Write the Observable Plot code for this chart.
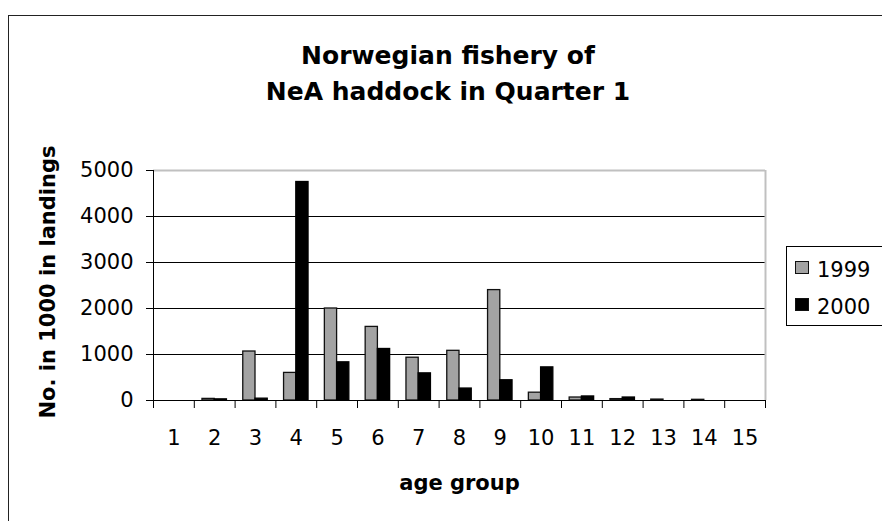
<!DOCTYPE html>
<html>
<head>
<meta charset="utf-8">
<script src="https://cdn.jsdelivr.net/npm/d3@7"></script>
<script src="https://cdn.jsdelivr.net/npm/@observablehq/plot@0.6"></script>
<style>
  html, body { margin: 0; padding: 0; background: #fff; width: 882px; height: 521px; overflow: hidden; }
  #wrap { position: relative; width: 882px; height: 521px; font-family: "DejaVu Sans", sans-serif; color: #000; }
  #frame { position: absolute; left: 8px; top: 15px; width: 900px; height: 600px; border-left: 1.5px solid #222; border-top: 1.5px solid #222; }
  .lbl { position: absolute; white-space: nowrap; line-height: 1; transform: translate(-50%, -50%); font-weight: bold; }
  #chart { position: absolute; left: 0; top: 0; }
  #legend { position: absolute; left: 786px; top: 246px; width: 110px; height: 78px; border: 1px solid #000; background: #fff; }
  .sw { position: absolute; width: 12px; height: 11px; border: 1.5px solid #111; }
  .lt { position: absolute; font-size: 21px; line-height: 1; }
</style>
</head>
<body>
<div id="wrap">
  <div id="frame"></div>
  <div id="chart"></div>
  <div class="lbl" style="left:448px; top:55px; font-size:25px;">Norwegian fishery of</div>
  <div class="lbl" style="left:448px; top:91px; font-size:25px;">NeA haddock in Quarter 1</div>
  <div class="lbl" style="left:47.5px; top:282px; font-size:21px; transform: translate(-50%, -50%) rotate(-90deg);">No. in 1000 in landings</div>
  <div class="lbl" style="left:459.5px; top:482.5px; font-size:21px;">age group</div>
  <div id="legend">
    <div class="sw" style="left:8px; top:14px; background:#a3a3a3;"></div>
    <div class="lt" style="left:30px; top:13px;">1999</div>
    <div class="sw" style="left:8px; top:51px; background:#000;"></div>
    <div class="lt" style="left:30px; top:50px;">2000</div>
  </div>
</div>
<script>
// Data
const ages = [1, 2, 3, 4, 5, 6, 7, 8, 9, 10, 11, 12, 13, 14, 15];
const y1999 = [0, 35, 1065, 600, 2000, 1600, 930, 1080, 2400, 170, 65, 30, 20, 15, 0];
const y2000 = [0, 25, 40, 4750, 830, 1120, 590, 260, 440, 720, 88, 65, 0, 0, 0];
const yTicks = [0, 1000, 2000, 3000, 4000, 5000];
const series = ["1999", "2000"];

const barW = 0.3;
const edges = [ages[0] - 0.5, ...ages.map(a => a + 0.5)];

const chart = Plot.plot({
  width: 882,
  height: 521,
  marginLeft: 153,
  marginRight: 117,
  marginTop: 170,
  marginBottom: 121,
  style: { fontFamily: "DejaVu Sans, sans-serif", fontSize: "21px", background: "transparent", color: "#000" },
  x: { type: "linear", domain: [edges[0], edges[edges.length - 1]], axis: null },
  y: { domain: [0, 5000], axis: null },
  marks: [
    Plot.ruleY(yTicks.slice(1, -1), { stroke: "#000", strokeWidth: 1 }),
    Plot.ruleY([yTicks[yTicks.length - 1]], { stroke: "#c0c0c0", strokeWidth: 2 }),
    Plot.ruleX([edges[edges.length - 1]], { stroke: "#c0c0c0", strokeWidth: 2 }),
    Plot.rectY(ages, { x1: a => a - barW, x2: a => a, y: (a, i) => y1999[i], fill: "#a3a3a3", stroke: "#111", strokeWidth: 1.3 }),
    Plot.rectY(ages, { x1: a => a, x2: a => a + barW, y: (a, i) => y2000[i], fill: "#000", stroke: "#000", strokeWidth: 1.3 }),
    Plot.ruleX([edges[0]], { stroke: "#000", strokeWidth: 1 }),
    Plot.ruleY([0], { stroke: "#000", strokeWidth: 1.2 }),
    Plot.axisY({ ticks: yTicks, tickSize: 7, tickPadding: 13, fontSize: 21, tickFormat: d => String(d), stroke: "#000" }),
    Plot.axisX({ ticks: edges, tickSize: 8, tickFormat: () => "", stroke: "#000" }),
    Plot.axisX({ ticks: ages, tickSize: 0, tickPadding: 30, fontSize: 21, tickFormat: d => String(d) })
  ]
});
document.getElementById("chart").appendChild(chart);
</script>
</body>
</html>
